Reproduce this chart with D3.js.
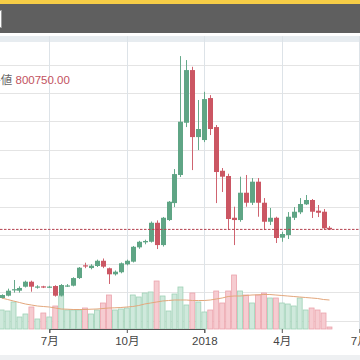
<!DOCTYPE html>
<html><head><meta charset="utf-8">
<script src="https://cdn.jsdelivr.net/npm/d3@7"></script>
<style>body{margin:0;background:#fff}svg{display:block}</style>
</head><body>
<svg id="c" width="360" height="360"></svg>
<script>
// weekly candles (Monday start), prices in JPY (thousands)
const firstWeek = new Date(2017, 4, 8);
const openK  = [198,218,265,262,297,341,295,300,295,303,218,305,306,373,485,461,479,525,459,406,424,494,517,643,687,692,859,663,883,1032,1279,1738,2201,1612,1586,1955,1700,1316,1270,903,883,1123,1035,1220,1035,868,903,728,751,903,951,1021,1059,965,956,815];
const highK  = [230,280,356,300,350,350,310,305,305,310,320,320,380,470,508,495,535,545,465,440,510,535,655,700,710,870,880,910,1050,1331,2324,2289,2230,1938,2010,1981,1718,1340,1290,1000,1264,1279,1252,1252,1076,989,912,780,953,997,1076,1103,1068,1015,980,830];
const lowK   = [195,212,245,245,290,253,280,285,285,210,212,295,300,365,460,450,470,460,321,395,415,485,510,630,670,685,628,650,875,997,1261,1700,1322,1498,1568,1630,1032,1129,795,663,868,1000,1015,912,795,839,681,692,716,883,935,1015,901,909,800,795];
const closeK = [224,262,275,286,341,297,299,295,298,218,312,308,373,464,480,482,525,473,406,429,503,525,648,692,699,859,663,903,1044,1287,1747,2201,1612,1683,1946,1683,1305,1264,892,883,1123,1035,1220,1035,868,903,725,760,912,956,1024,1059,956,947,810,800.75];
const volume = [19,18,27,12,15,22,10,16,12,23,33,19,19,19,21,15,19,26,34,19,20,21,34,32,36,37,48,33,18,35,42,24,36,27,17,19,38,26,38,54,38,34,26,34,36,31,31,26,25,23,31,19,21,19,16,2];
const volumeMA = [31,29.5,28,26.5,25,24,23,22.5,22,21,20,19.8,19.5,19.5,19.5,19.8,20,20.5,21,21.2,21.5,22,22.5,23.5,25,26,27,28,28.5,29,29,29,28.5,28.5,28.5,29,30,31,32.5,33,33,33.5,34,34.2,34.5,34.5,34,33.5,33,32.5,32,31.5,31,30.5,29.5,29];
const lastClose = 800750;
const priceTicks = [0,250000,500000,750000,1000000,1250000,1500000,1750000,2000000,2250000];
const monthTicks = [new Date(2017,6,3), new Date(2017,9,2), new Date(2018,0,1), new Date(2018,3,2), new Date(2018,6,2)];

const weeks = d3.timeMonday.range(firstWeek, new Date(2018, 5, 1));
const data = weeks.map((d, i) => ({date: d, o: openK[i]*1000, h: highK[i]*1000, l: lowK[i]*1000, c: closeK[i]*1000, v: volume[i], ma: volumeMA[i]}));

const svg = d3.select('#c');
const W = 360, H = 360;
const x = d3.scaleTime().domain([new Date(2017,6,3), new Date(2018,0,1)]).range([49.3, 204.3]);
const y = d3.scaleLinear().domain([0, 2250000]).range([320.5, 64.5]);
const yv = d3.scaleLinear().domain([0, 100]).range([329, 229]);

// header
svg.append('rect').attr('x',0).attr('y',0).attr('width',W).attr('height',4).attr('fill','#f6cd46');
svg.append('rect').attr('x',0).attr('y',4).attr('width',W).attr('height',29).attr('fill','#5f5f5f');
svg.append('rect').attr('x',-20).attr('y',10.5).attr('width',21.5).attr('height',17).attr('fill','#ffffff').attr('stroke','#9a9a9a');
svg.append('rect').attr('x',0).attr('y',36).attr('width',W).attr('height',6).attr('fill','#e7ecf0');
svg.append('rect').attr('x',0).attr('y',355).attr('width',W).attr('height',5).attr('fill','#eef0f2');

// grid
svg.append('g').selectAll('line').data(priceTicks).join('line')
  .attr('x1',0).attr('x2',W).attr('y1',d=>Math.round(y(d))+0.5).attr('y2',d=>Math.round(y(d))+0.5)
  .attr('stroke','#e4e4e4');
svg.append('g').selectAll('line').data(monthTicks).join('line')
  .attr('x1',d=>Math.round(x(d))+0.5).attr('x2',d=>Math.round(x(d))+0.5).attr('y1',36).attr('y2',329)
  .attr('stroke','#dde3e8');

// volume
const bw = 5.96;
svg.append('g').selectAll('rect').data(data).join('rect')
  .attr('x', d => x(d.date) - bw/2 + 0.5)
  .attr('width', bw - 1)
  .attr('y', d => yv(d.v))
  .attr('height', d => yv(0) - yv(d.v))
  .attr('fill', d => d.c >= d.o ? '#cfe9dc' : '#f6ccd1')
  .attr('stroke', d => d.c >= d.o ? '#9fd1b6' : '#eba3ac')
  .attr('stroke-width', 0.8);
svg.append('path').datum(data)
  .attr('d', d3.line().x(d => x(d.date)).y(d => yv(d.ma)))
  .attr('fill','none').attr('stroke','#e3a77c').attr('stroke-width',1);

// candles
const cg = svg.append('g').selectAll('g').data(data).join('g');
cg.append('line')
  .attr('x1', d => Math.round(x(d.date))+0.5).attr('x2', d => Math.round(x(d.date))+0.5)
  .attr('y1', d => y(d.h)).attr('y2', d => y(d.l))
  .attr('stroke', d => d.c >= d.o ? '#66a98a' : '#cf6470').attr('stroke-width',1);
cg.append('rect')
  .attr('x', d => Math.round(x(d.date)) - 2)
  .attr('width', 5)
  .attr('y', d => y(Math.max(d.o, d.c)))
  .attr('height', d => Math.max(1.2, Math.abs(y(d.o) - y(d.c))))
  .attr('fill', d => d.c >= d.o ? '#5fa585' : '#cb5663');

// last price line
svg.append('line').attr('x1',0).attr('x2',W).attr('y1',y(lastClose)).attr('y2',y(lastClose))
  .attr('stroke','#b4404e').attr('stroke-width',1).attr('stroke-dasharray','2.5,1.5');

// label
const t = svg.append('text').attr('x',-10.7).attr('y',84).attr('font-family','Liberation Sans, Noto Sans CJK JP, sans-serif').attr('font-size',11.5);
t.append('tspan').attr('fill','#666').text('終値 ');
t.append('tspan').attr('fill','#c2525e').text(d3.format('.2f')(lastClose));

// x axis
const ax = svg.append('g').attr('transform','translate(0,329)')
  .call(d3.axisBottom(x).tickValues(monthTicks).tickSize(4).tickPadding(4)
    .tickFormat(d => d.getMonth() === 0 ? d3.timeFormat('%Y')(d) : (d.getMonth()+1) + '月'));
ax.select('.domain').attr('stroke','#555');
ax.selectAll('.tick line').attr('stroke','#555');
ax.selectAll('.tick text').attr('fill','#444').attr('font-size',11.5)
  .attr('font-family','Liberation Sans, Noto Sans CJK JP, sans-serif');
</script>
</body></html>
